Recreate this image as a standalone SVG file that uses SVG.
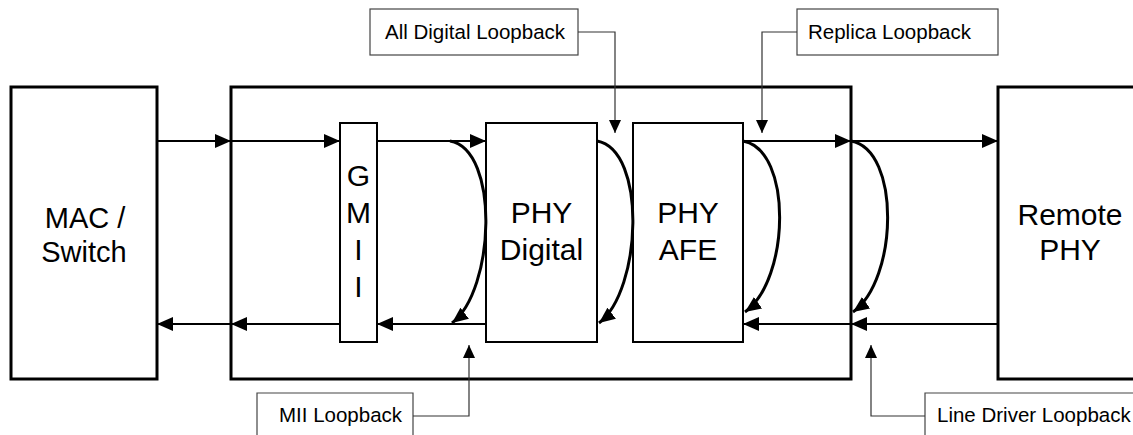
<svg xmlns="http://www.w3.org/2000/svg" width="1133" height="435" viewBox="0 0 1133 435">
<style>
.big{fill:none;stroke:#000;stroke-width:3}
.blk{fill:#fff;stroke:#000;stroke-width:2}
.lbl{fill:#fff;stroke:#444;stroke-width:1.2}
.t{font-family:"Liberation Sans",Arial,sans-serif;font-size:30px;fill:#000;text-anchor:middle}
.lt{font-family:"Liberation Sans",Arial,sans-serif;font-size:20.5px;fill:#000}
.w{fill:none;stroke:#000;stroke-width:2}
.loop{fill:none;stroke:#000;stroke-width:3}
.thin{fill:none;stroke:#333;stroke-width:1.2}
</style>
<defs>
<marker id="ah" viewBox="0 0 16 14" refX="16" refY="7" markerWidth="16" markerHeight="14" markerUnits="userSpaceOnUse" orient="auto"><path d="M0,0 L16,7 L0,14 z" fill="#000"/></marker>
<marker id="ahs" viewBox="0 0 13 12" refX="13" refY="6" markerWidth="13" markerHeight="12" markerUnits="userSpaceOnUse" orient="auto"><path d="M0,0 L13,6 L0,12 z" fill="#000"/></marker>
</defs>
<rect width="1133" height="435" fill="#fff"/>
<g id="mac"><rect class="big" x="11" y="87" width="146" height="292"/><text class="t" x="85" y="228" style="font-size:29px">MAC /</text><text class="t" x="84" y="262" style="font-size:29px">Switch</text></g>
<g id="phy-chip"><rect class="big" x="231" y="87" width="620" height="292"/></g>
<g id="remote"><path class="big" d="M1140,87 H998 V379 H1140"/><text class="t" x="1070" y="225">Remote</text><text class="t" x="1070" y="260">PHY</text></g>
<g id="gmii"><rect class="blk" x="340" y="123" width="37" height="219"/><text class="t" x="358.5" y="186">G</text><text class="t" x="358.5" y="223">M</text><text class="t" x="358.5" y="260">I</text><text class="t" x="358.5" y="297">I</text></g>
<g id="phy-digital"><rect class="blk" x="486" y="123" width="111" height="219"/><text class="t" x="541.5" y="223">PHY</text><text class="t" x="541.5" y="260">Digital</text></g>
<g id="phy-afe"><rect class="blk" x="633" y="123" width="110" height="219"/><text class="t" x="688" y="223">PHY</text><text class="t" x="688" y="260">AFE</text></g>
<g id="lbl-adl"><rect class="lbl" x="370" y="9" width="208" height="46"/><text class="lt" x="385" y="39">All Digital Loopback</text></g>
<g id="lbl-replica"><rect class="lbl" x="797" y="9" width="201" height="46"/><text class="lt" x="808" y="39">Replica Loopback</text></g>
<g id="lbl-mii"><path class="lbl" d="M257,440 V393 H413 V440"/><text class="lt" x="279" y="422">MII Loopback</text></g>
<g id="lbl-ld"><path class="lbl" d="M925,440 V393 H1140"/><text class="lt" x="937" y="422">Line Driver Loopback</text></g>
<g id="connectors">
<path class="w" d="M157,141 H231" marker-end="url(#ah)"/>
<path class="w" d="M231,141 H340" marker-end="url(#ah)"/>
<path class="w" d="M377,141 H486" marker-end="url(#ah)"/>
<path class="w" d="M743,141 H851" marker-end="url(#ah)"/>
<path class="w" d="M851,141 H998" marker-end="url(#ah)"/>
<path class="w" d="M998,324 H851" marker-end="url(#ah)"/>
<path class="w" d="M851,324 H743" marker-end="url(#ah)"/>
<path class="w" d="M486,324 H377" marker-end="url(#ah)"/>
<path class="w" d="M340,324 H231" marker-end="url(#ah)"/>
<path class="w" d="M231,324 H157" marker-end="url(#ah)"/>
<path class="loop" d="M450,141 C500,150 495,290 452,323" marker-end="url(#ah)"/>
<path class="loop" d="M597,141 C647,150 642,290 599,323" marker-end="url(#ah)"/>
<path class="loop" d="M743,141 C793,150 790,280 745,312" marker-end="url(#ah)"/>
<path class="loop" d="M851,141 C901,150 898,280 853,312" marker-end="url(#ah)"/>
<path class="thin" d="M578,32 H615 V133" marker-end="url(#ahs)"/>
<path class="thin" d="M797,32 H762 V133" marker-end="url(#ahs)"/>
<path class="thin" d="M413,416 H469 V345" marker-end="url(#ahs)"/>
<path class="thin" d="M925,416 H871 V345" marker-end="url(#ahs)"/>
</g>
</svg>
